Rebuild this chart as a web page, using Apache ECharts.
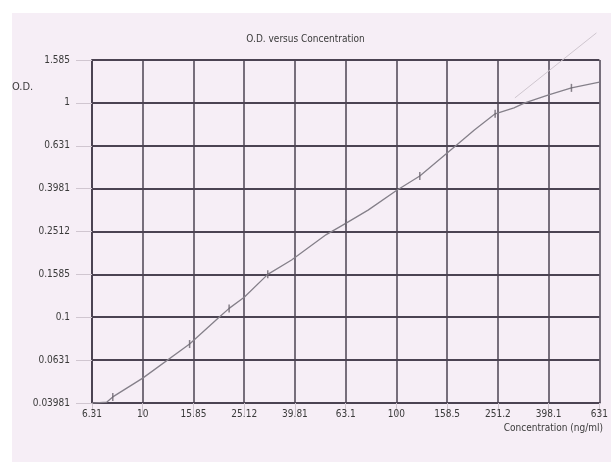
<!DOCTYPE html>
<html>
<head>
<meta charset="utf-8">
<title>O.D. versus Concentration</title>
<script src="https://cdn.jsdelivr.net/npm/echarts@6/dist/echarts.min.js"></script>
<style>
  html, body { margin: 0; padding: 0; background: #ffffff; }
  #chart { width: 611px; height: 462px; }
</style>
</head>
<body>
<div id="chart"></div>
<script>
  // tick labels as printed on the sheet
  var xTickValues = [6.31, 10, 15.85, 25.12, 39.81, 63.1, 100, 158.5, 251.2, 398.1, 631];
  var xTickLabels = ['6.31', '10', '15.85', '25.12', '39.81', '63.1', '100', '158.5', '251.2', '398.1', '631'];
  var yTickValues = [0.03981, 0.0631, 0.1, 0.1585, 0.2512, 0.3981, 0.631, 1, 1.585];
  var yTickLabels = ['0.03981', '0.0631', '0.1', '0.1585', '0.2512', '0.3981', '0.631', '1', '1.585'];

  // standard curve
  var curveConc = [6.31, 7.22, 7.62, 10, 15.3, 20.0, 21.9, 25.12, 31.1, 38.6, 52.9, 63.1, 77.3, 100, 123.6, 169.5, 202.8, 244.9, 290.6, 320.6, 398.1, 489.5, 631];
  var curveOD = [0.0398, 0.0402, 0.0425, 0.052, 0.075, 0.1, 0.110, 0.124, 0.1585, 0.185, 0.243, 0.274, 0.316, 0.39, 0.456, 0.625, 0.748, 0.889, 0.948, 1.0, 1.09, 1.175, 1.25];

  // measured standards (small tick marks on the curve)
  var pointConc = [7.62, 15.3, 21.9, 31.1, 63.1, 123.6, 244.9, 489.5];
  var pointOD = [0.0425, 0.075, 0.110, 0.1585, 0.274, 0.456, 0.889, 1.175];

  // faint extrapolated fit line above the top
  var fitConc = [293, 614];
  var fitOD = [1.055, 2.12];

  function pairs(xs, ys) {
    var out = [];
    for (var i = 0; i < xs.length; i++) out.push([xs[i], ys[i]]);
    return out;
  }
  function nearestLabel(v, vals, labels) {
    var best = 0, d = Infinity;
    for (var i = 0; i < vals.length; i++) {
      var dd = Math.abs(Math.log(v) - Math.log(vals[i]));
      if (dd < d) { d = dd; best = i; }
    }
    return labels[best];
  }

  var FONT = '"Liberation Sans Narrow", "DejaVu Sans Condensed", "Liberation Sans", sans-serif';
  var GRID = '#4b4352';

  var chart = echarts.init(document.getElementById('chart'));
  chart.setOption({
    backgroundColor: '#ffffff',
    animation: false,
    title: {
      text: 'O.D. versus Concentration',
      left: 'center',
      top: 29,
      textStyle: { fontFamily: FONT, fontSize: 10, fontWeight: 'normal', color: '#3a3a3a' }
    },
    graphic: [
      { type: 'rect', z: -10, shape: { x: 12, y: 13, width: 599, height: 449 }, style: { fill: '#f6eef6' } },
      { type: 'text', left: 12, top: 82, style: { text: 'O.D.', font: '11px ' + FONT, fill: '#3a3a3a' } },
      { type: 'text', right: 8, top: 423, style: { text: 'Concentration (ng/ml)', font: '10px ' + FONT, fill: '#3a3a3a' } }
    ],
    grid: { left: 92, right: 8, top: 60, bottom: 59 },
    xAxis: {
      type: 'log',
      logBase: 10,
      min: Math.pow(10, 0.8),
      max: Math.pow(10, 2.8),
      interval: 0.2,
      axisLine: { show: true, lineStyle: { color: GRID, width: 2 } },
      axisTick: { show: true, length: 12, lineStyle: { color: '#d0c6d0', width: 1 } },
      axisLabel: {
        margin: 6,
        fontFamily: FONT, fontSize: 10, color: '#3a3a3a',
        formatter: function (v) { return nearestLabel(v, xTickValues, xTickLabels); }
      },
      splitLine: { show: true, lineStyle: { color: GRID, width: 1.5 } },
      minorTick: { show: false }
    },
    yAxis: {
      type: 'log',
      logBase: 10,
      min: Math.pow(10, -1.4),
      max: Math.pow(10, 0.2),
      interval: 0.2,
      axisLine: { show: true, lineStyle: { color: GRID, width: 2 } },
      axisTick: { show: true, length: 16, lineStyle: { color: '#d0c6d0', width: 1 } },
      axisLabel: {
        margin: 22,
        fontFamily: FONT, fontSize: 10, color: '#3a3a3a',
        formatter: function (v) { return nearestLabel(v, yTickValues, yTickLabels); }
      },
      splitLine: { show: true, lineStyle: { color: GRID, width: 2.2 } }
    },
    series: [
      {
        name: 'fit',
        type: 'line',
        data: pairs(fitConc, fitOD),
        clip: false,
        showSymbol: false,
        lineStyle: { color: '#cfc6cf', width: 1 },
        z: 3
      },
      {
        name: 'curve',
        type: 'line',
        data: pairs(curveConc, curveOD),
        showSymbol: false,
        lineStyle: { color: '#85808a', width: 1.3 },
        z: 4
      },
      {
        name: 'standards',
        type: 'scatter',
        data: pairs(pointConc, pointOD),
        symbol: 'rect',
        symbolSize: [1.5, 8],
        itemStyle: { color: '#6a646e' },
        z: 5
      }
    ]
  });
</script>
</body>
</html>
